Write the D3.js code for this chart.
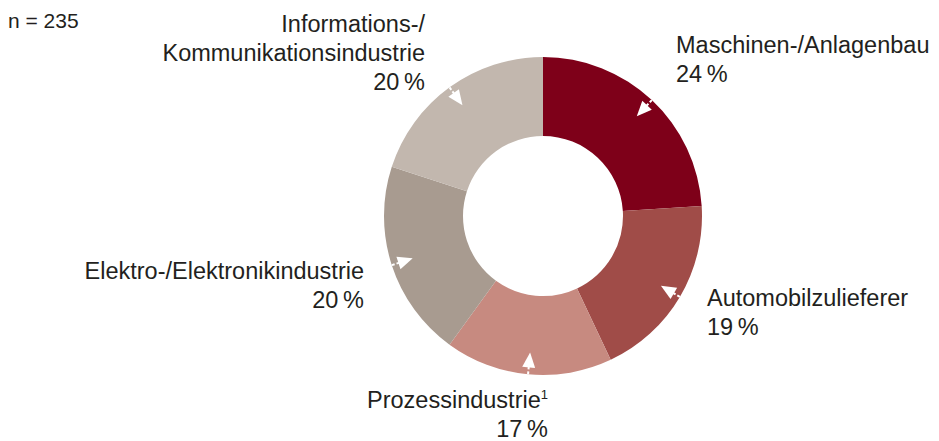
<!DOCTYPE html>
<html>
<head>
<meta charset="utf-8">
<script src="https://cdn.jsdelivr.net/npm/d3@7"></script>
<style>
  body { margin: 0; background: #fff; }
  svg { font-family: "Liberation Sans", Arial, sans-serif; fill: #231f20; }
</style>
</head>
<body>
<svg width="939" height="441"></svg>
<script>
const width = 939, height = 441;
const svg = d3.select("svg");

// data
const categories = ["Maschinen-/Anlagenbau", "Automobilzulieferer", "Prozessindustrie", "Elektro-/Elektronikindustrie", "Informations-/Kommunikationsindustrie"];
const shares = [24, 19, 17, 20, 20];
const colors = ["#7e0019", "#a04c48", "#c78a80", "#a89b90", "#c2b7ae"];
const sampleSize = 235;

// label layout: lines, anchor, x, first baseline
const labelLines = [
  ["Maschinen-/Anlagenbau", "24\u2009%"],
  ["Automobilzulieferer", "19\u2009%"],
  ["Prozessindustrie", "17\u2009%"],
  ["Elektro-/Elektronikindustrie", "20\u2009%"],
  ["Informations-/", "Kommunikationsindustrie", "20\u2009%"]
];
const labelPos = [
  { x: 676, y: 53, anchor: "start" },
  { x: 707, y: 306, anchor: "start" },
  { x: 548, y: 408, anchor: "end" },
  { x: 364, y: 279, anchor: "end" },
  { x: 425, y: 32, anchor: "end" }
];

const cx = 543, cy = 216, rOuter = 159, rInner = 80;
const fontSize = 23.5, lineH = 29;

const pie = d3.pie().sort(null).value(d => d);
const arc = d3.arc().innerRadius(rInner).outerRadius(rOuter);
const arcs = pie(shares);

const g = svg.append("g").attr("transform", `translate(${cx},${cy})`);

g.selectAll("path.slice")
  .data(arcs)
  .join("path")
  .attr("class", "slice")
  .attr("d", arc)
  .attr("fill", (d, i) => colors[i]);

// white arrows pointing into each slice
const pt = (a, r) => [Math.sin(a) * r, -Math.cos(a) * r];
arcs.forEach(d => {
  const a = (d.startAngle + d.endAngle) / 2;
  const tip = pt(a, 137), base = pt(a, 152);
  const w = 6.5;
  const nx = Math.cos(a) * w, ny = Math.sin(a) * w;
  g.append("path")
    .attr("d", `M${tip[0]},${tip[1]}L${base[0] + nx},${base[1] + ny}L${base[0] - nx},${base[1] - ny}Z`)
    .attr("fill", "#fff");
  const t0 = pt(a, 151), t1 = pt(a, 160);
  g.append("line")
    .attr("x1", t0[0]).attr("y1", t0[1])
    .attr("x2", t1[0]).attr("y2", t1[1])
    .attr("stroke", "#fff")
    .attr("stroke-width", 2)
    .attr("stroke-dasharray", "3,2");
});

// labels
labelLines.forEach((lines, i) => {
  const p = labelPos[i];
  const t = svg.append("text")
    .attr("text-anchor", p.anchor)
    .attr("font-size", fontSize)
    .attr("fill", "#231f20");
  lines.forEach((line, j) => {
    t.append("tspan")
      .attr("x", p.x)
      .attr("y", p.y + j * lineH)
      .text(line);
    if (i === 2 && j === 0) {
      t.append("tspan")
        .attr("font-size", 13)
        .attr("dy", -9)
        .text("1");
    }
  });
});

svg.append("text")
  .attr("x", 8)
  .attr("y", 28)
  .attr("font-size", 21)
  .attr("fill", "#231f20")
  .text(`n = ${sampleSize}`);
</script>
</body>
</html>
